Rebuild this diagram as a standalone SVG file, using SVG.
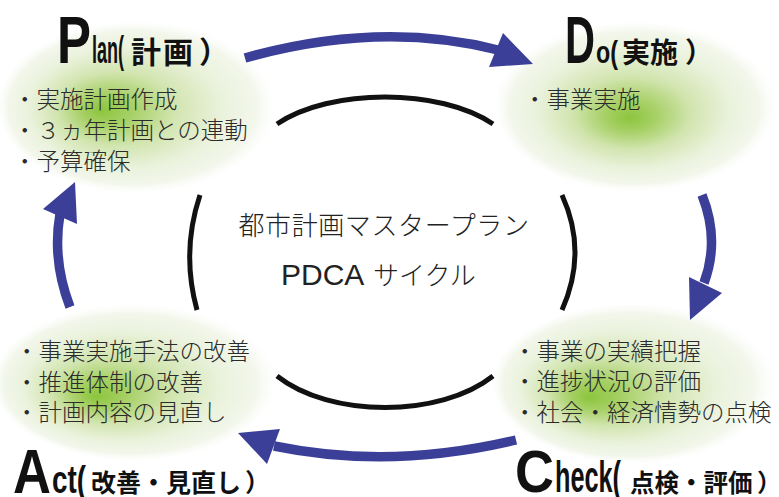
<svg xmlns="http://www.w3.org/2000/svg" width="779" height="497" viewBox="0 0 779 497">
<style>
.body{font-family:"Noto Sans CJK JP","Noto Sans CJK SC",sans-serif;font-weight:300;font-size:23.5px;fill:#2b2b2b}
.center{font-family:"Noto Sans CJK JP","Noto Sans CJK SC",sans-serif;font-weight:300;font-size:26px;fill:#222}
.big{font-family:"Liberation Sans","Arial",sans-serif;font-weight:bold;fill:#111}
.jt{font-family:"Noto Sans CJK JP","Noto Sans CJK SC",sans-serif;font-weight:bold;fill:#111}
.arc{fill:none;stroke:#111;stroke-width:5}
.shaft{fill:none;stroke:#3b3f97;stroke-width:9.5}
.head{fill:#3b3f97}
</style>
<defs>
<radialGradient id="gP" cx="0.5" cy="0.5" r="0.5" fx="0.37" fy="0.52">
<stop offset="0" stop-color="#8cc53d"/><stop offset="0.18" stop-color="#a7d066"/><stop offset="0.42" stop-color="#d2e5b0"/><stop offset="0.68" stop-color="#eaf2dc"/><stop offset="0.88" stop-color="#f3f7ec"/><stop offset="1" stop-color="#ffffff" stop-opacity="0"/>
</radialGradient>
<radialGradient id="gD" cx="0.5" cy="0.5" r="0.5" fx="0.48" fy="0.57">
<stop offset="0" stop-color="#8cc53d"/><stop offset="0.18" stop-color="#a7d066"/><stop offset="0.42" stop-color="#d2e5b0"/><stop offset="0.68" stop-color="#eaf2dc"/><stop offset="0.88" stop-color="#f3f7ec"/><stop offset="1" stop-color="#ffffff" stop-opacity="0"/>
</radialGradient>
<radialGradient id="gA" cx="0.5" cy="0.5" r="0.5" fx="0.36" fy="0.59">
<stop offset="0" stop-color="#8cc53d"/><stop offset="0.18" stop-color="#a7d066"/><stop offset="0.42" stop-color="#d2e5b0"/><stop offset="0.68" stop-color="#eaf2dc"/><stop offset="0.88" stop-color="#f3f7ec"/><stop offset="1" stop-color="#ffffff" stop-opacity="0"/>
</radialGradient>
<radialGradient id="gC" cx="0.5" cy="0.5" r="0.5" fx="0.34" fy="0.59">
<stop offset="0" stop-color="#8cc53d"/><stop offset="0.18" stop-color="#a7d066"/><stop offset="0.42" stop-color="#d2e5b0"/><stop offset="0.68" stop-color="#eaf2dc"/><stop offset="0.88" stop-color="#f3f7ec"/><stop offset="1" stop-color="#ffffff" stop-opacity="0"/>
</radialGradient>
</defs>
<rect width="779" height="497" fill="#ffffff"/>

<g id="blobs">
<ellipse cx="137" cy="107" rx="142" ry="88" fill="url(#gP)"/>
<ellipse cx="635" cy="106" rx="143" ry="87" fill="url(#gD)"/>
<ellipse cx="135" cy="382" rx="145" ry="80" fill="url(#gA)"/>
<ellipse cx="634" cy="383" rx="144" ry="82" fill="url(#gC)"/>
</g>

<g id="center">
<path class="arc" d="M277,124 C330,88 440,88 493,124"/>
<path class="arc" d="M200,195 Q181,252 197,310"/>
<path class="arc" d="M562,195 Q588,252 562,310"/>
<path class="arc" d="M277,376 C330,418 440,418 493,376"/>
<text class="center" x="384" y="235" text-anchor="middle" letter-spacing="0.6">都市計画マスタープラン</text>
<text x="281" y="285"><tspan font-family="Liberation Sans, Arial, sans-serif" font-size="30" fill="#222">PDCA</tspan><tspan class="center" x="373">サイクル</tspan></text>
</g>

<g id="connectors">
<path class="shaft" d="M245,58 Q380,20 498,50"/>
<polygon class="head" points="503,33 533,64 489,67"/>
<path class="shaft" d="M702,195 Q720,240 704,283"/>
<polygon class="head" points="689,277 722,293 690,320"/>
<path class="shaft" d="M516,440 Q390,470 274,446"/>
<polygon class="head" points="280,429 238,433 267,464"/>
<path class="shaft" d="M70,307 Q52,260 60,214"/>
<polygon class="head" points="75,182 43,209 77,224"/>
</g>

<g id="plan">
<text class="big" x="57" y="63" font-size="67" textLength="34" lengthAdjust="spacingAndGlyphs">P</text>
<text class="big" x="92" y="63" font-size="38" textLength="32" lengthAdjust="spacingAndGlyphs">lan(</text>
<text class="jt" x="131" y="63" font-size="30" letter-spacing="2">計画</text>
<text class="jt" x="199" y="63" font-size="30">）</text>
<text class="body" x="13" y="108">・実施計画作成</text>
<text class="body" x="13" y="139">・３ヵ年計画との連動</text>
<text class="body" x="13" y="170">・予算確保</text>
</g>

<g id="do">
<text class="big" x="565" y="63" font-size="67" textLength="30" lengthAdjust="spacingAndGlyphs">D</text>
<text class="big" x="596" y="63" font-size="31" textLength="22" lengthAdjust="spacingAndGlyphs">o(</text>
<text class="jt" x="622" y="63" font-size="28">実施</text>
<text class="jt" x="685" y="63" font-size="28">）</text>
<text class="body" x="523" y="108">・事業実施</text>
</g>

<g id="act">
<text class="big" x="13" y="493" font-size="63" textLength="38" lengthAdjust="spacingAndGlyphs">A</text>
<text class="big" x="52" y="493" font-size="38" textLength="34" lengthAdjust="spacingAndGlyphs">ct(</text>
<text class="jt" x="91" y="492" font-size="25">改善・見直し</text>
<text class="jt" x="245" y="492" font-size="25">）</text>
<text class="body" x="15" y="360">・事業実施手法の改善</text>
<text class="body" x="15" y="391">・推進体制の改善</text>
<text class="body" x="15" y="421">・計画内容の見直し</text>
</g>

<g id="check">
<text class="big" x="515" y="492" font-size="60" textLength="39" lengthAdjust="spacingAndGlyphs">C</text>
<text class="big" x="555" y="492" font-size="44" textLength="66" lengthAdjust="spacingAndGlyphs">heck(</text>
<text class="jt" x="630" y="492" font-size="24.5">点検・評価</text>
<text class="jt" x="757" y="492" font-size="24.5">）</text>
<text class="body" x="513" y="360">・事業の実績把握</text>
<text class="body" x="513" y="390">・進捗状況の評価</text>
<text class="body" x="513" y="421">・社会・経済情勢の点検</text>
</g>
</svg>
